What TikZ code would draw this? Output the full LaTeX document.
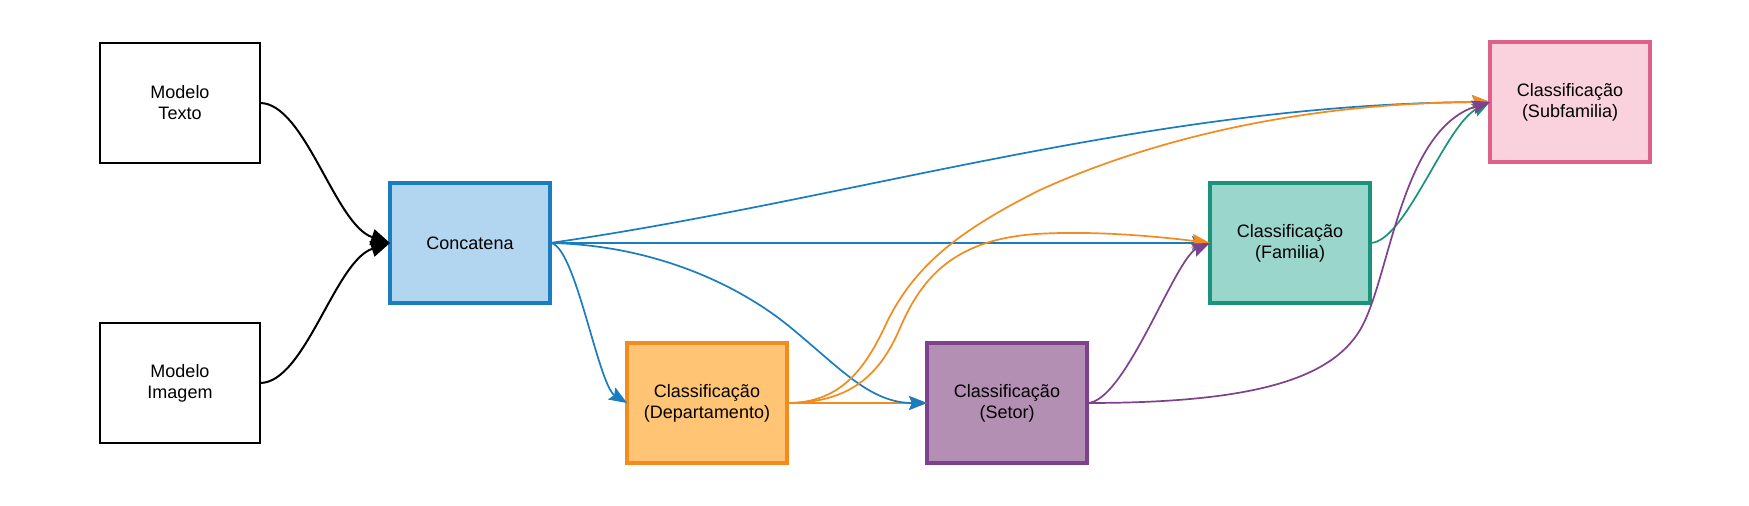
\documentclass[tikz,border=0pt]{standalone}
\usepackage{fontspec}
\setmainfont{Liberation Sans}
\usetikzlibrary{arrows.meta}
\definecolor{eblue}{HTML}{1A7DC0}
\definecolor{fblue}{HTML}{B3D6F0}
\definecolor{eorange}{HTML}{F28C1E}
\definecolor{forange}{HTML}{FFC575}
\definecolor{epurple}{HTML}{7E418E}
\definecolor{fpurple}{HTML}{B38FB3}
\definecolor{eteal}{HTML}{1A937A}
\definecolor{fteal}{HTML}{9AD6CC}
\definecolor{epink}{HTML}{DE6189}
\definecolor{fpink}{HTML}{F9D2DD}
\begin{document}
\begin{tikzpicture}[x=1bp,y=-1bp,
  box/.style={draw, minimum width=160bp, minimum height=120bp, inner sep=0pt, outer sep=0pt,
    align=center, font=\fontsize{18bp}{21bp}\selectfont},
  plainbox/.style={box, draw=black, line width=1.8bp, fill=white},
  colbox/.style={box, line width=3.2bp},
  blackedge/.style={draw=black, line width=2bp, -{Triangle[length=19bp,width=16bp]}},
  coledge/.style={line width=1.7bp, -{Stealth[length=18bp,width=14bp,inset=3bp]}}
]
\useasboundingbox[fill=white] (0,0) rectangle (1749,506);

\node[plainbox] (mt) at (180,103) {Modelo\\Texto};
\node[plainbox] (mi) at (180,383) {Modelo\\Imagem};
\node[colbox, draw=eblue, fill=fblue] (conc) at (470,243) {Concatena};
\node[colbox, draw=eorange, fill=forange] (dept) at (707,403) {Classificação\\(Departamento)};
\node[colbox, draw=epurple, fill=fpurple] (setor) at (1007,403) {Classificação\\(Setor)};
\node[colbox, draw=eteal, fill=fteal] (fam) at (1290,243) {Classificação\\(Familia)};
\node[colbox, draw=epink, fill=fpink] (sub) at (1570,102) {Classificação\\(Subfamilia)};

% inputs
\draw[blackedge] (mt.east) .. controls (305,103) and (335,225) .. (conc.west);
\draw[blackedge] (mi.east) .. controls (305,383) and (335,261) .. (conc.west);

% blue edges
\draw[coledge, eblue] (conc.east) .. controls (850,200) and (1150,104) .. (sub.west);
\draw[coledge, eblue] (conc.east) -- (fam.west);
\draw[coledge, eorange] (dept.east) -- (setor.west);
\draw[coledge, eblue] (conc.east) .. controls (650,245) and (735,282) .. (790,327)
  .. controls (840,368) and (870,403) .. (setor.west);
\draw[coledge, eblue] (conc.east) .. controls (575,243) and (598,385) .. (dept.west);

% orange edges
\draw[coledge, eorange] (dept.east) .. controls (840,403) and (865,370) .. (887,322)
  .. controls (915,265) and (960,230) .. (1040,190)
  .. controls (1150,140) and (1300,103) .. (sub.west);
\draw[coledge, eorange] (dept.east) .. controls (850,403) and (880,375) .. (900,328)
  .. controls (920,282) and (950,240) .. (1036,234)
  .. controls (1100,230) and (1170,238) .. (fam.west);

% teal edge
\draw[coledge, eteal] (fam.east) .. controls (1405,243) and (1445,125) .. (sub.west);

% purple edges
\draw[coledge, epurple] (setor.east) .. controls (1125,403) and (1175,258) .. (fam.west);
\draw[coledge, epurple] (setor.east) .. controls (1250,403) and (1330,380) .. (1360,330)
  .. controls (1390,280) and (1400,130) .. (sub.west);
\end{tikzpicture}
\end{document}
